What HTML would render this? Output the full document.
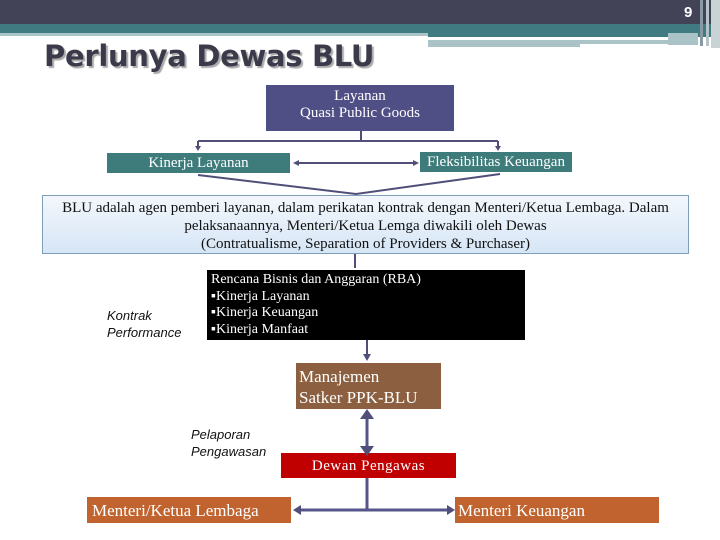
<!DOCTYPE html>
<html><head><meta charset="utf-8"><style>
body{margin:0;width:720px;height:540px;position:relative;background:#fff;overflow:hidden;font-family:"Liberation Serif",serif}
.a{position:absolute;box-sizing:border-box}
.it{font-family:"Liberation Sans",sans-serif;font-style:italic;font-size:13px;color:#111;line-height:17px}
</style></head><body>
<div class="a" style="left:0;top:0;width:720px;height:24px;background:#434357"></div>
<div class="a" style="left:0;top:24px;width:720px;height:9px;background:#3f7b80"></div>
<div class="a" style="left:0;top:33px;width:428px;height:3px;background:#a9c3c6"></div>
<div class="a" style="left:428px;top:33px;width:292px;height:4px;background:#3f7b80"></div>
<div class="a" style="left:428px;top:40px;width:240px;height:4px;background:#a9c3c6"></div>
<div class="a" style="left:428px;top:44px;width:152px;height:3px;background:#a9c3c6"></div>
<div class="a" style="left:668px;top:33px;width:30px;height:12px;background:#a9c3c6"></div>
<div class="a" style="left:700px;top:0;width:3px;height:46px;background:#8a9aa5"></div>
<div class="a" style="left:706px;top:0;width:3px;height:46px;background:#b5c3c8"></div>
<div class="a" style="left:711px;top:0;width:9px;height:48px;background:#c9d3d6"></div>
<div class="a" style="left:684px;top:4px;color:#fff;font:bold 15px 'Liberation Sans',sans-serif">9</div>
<div class="a" style="left:44px;top:39px;font:bold 29px 'DejaVu Sans',sans-serif;color:#3a3a4a;text-shadow:2px 2px 1px #aaa;letter-spacing:-0.3px">Perlunya Dewas BLU</div>

<div class="a" style="left:266px;top:85px;width:188px;height:46px;background:#4f4f86;color:#fff;font-size:15px;text-align:center;line-height:17px;padding-top:3px">Layanan<br>Quasi Public Goods</div>
<div class="a" style="left:107px;top:153px;width:183px;height:20px;background:#3e7c7c;color:#fff;font-size:15px;text-align:center;line-height:20px">Kinerja Layanan</div>
<div class="a" style="left:420px;top:152px;width:152px;height:20px;background:#3e7c7c;color:#fff;font-size:15px;text-align:center;line-height:20px;white-space:nowrap">Fleksibilitas Keuangan</div>
<div class="a" style="left:42px;top:195px;width:647px;height:59px;background:linear-gradient(#f3f7fc,#d6e6f6);border:1px solid #7f9fb8;font-size:15px;text-align:center;line-height:18px;padding-top:3px;color:#111;white-space:nowrap">BLU adalah agen pemberi layanan, dalam perikatan kontrak dengan Menteri/Ketua Lembaga. Dalam<br>pelaksanaannya, Menteri/Ketua Lemga diwakili oleh Dewas<br>(Contratualisme, Separation of Providers &amp; Purchaser)</div>
<div class="a" style="left:207px;top:270px;width:318px;height:70px;background:#000;color:#fff;font-size:14px;line-height:16.5px;padding:2px 0 0 4px">Rencana Bisnis dan Anggaran (RBA)<br>▪Kinerja Layanan<br>▪Kinerja Keuangan<br>▪Kinerja Manfaat</div>
<div class="a it" style="left:107px;top:307px">Kontrak<br>Performance</div>
<div class="a" style="left:296px;top:363px;width:145px;height:46px;background:#8b5f3f;color:#fff;font-size:17px;line-height:21px;padding:3px 0 0 3px">Manajemen<br>Satker PPK-BLU</div>
<div class="a it" style="left:191px;top:426px">Pelaporan<br>Pengawasan</div>
<div class="a" style="left:281px;top:453px;width:175px;height:25px;background:#c00000;color:#fff;font-size:15px;text-align:center;line-height:26px;letter-spacing:0.5px">Dewan Pengawas</div>
<div class="a" style="left:87px;top:497px;width:204px;height:26px;background:#c0632e;color:#fff;font-size:17px;line-height:27px;padding-left:5px">Menteri/Ketua Lembaga</div>
<div class="a" style="left:455px;top:497px;width:204px;height:26px;background:#c0632e;color:#fff;font-size:17px;line-height:27px;padding-left:3px">Menteri Keuangan</div>

<svg class="a" style="left:0;top:0" width="720" height="540">
<g stroke="#4f4f7a" stroke-width="2" fill="none">
<path d="M361 131V141M198 141H498M198 141V148M498 141V148"/>
<path d="M298 163H414"/>
<path d="M198 175L356 194L500 174"/>
<path d="M355 254V268M367 340V356"/>
</g>
<g stroke="#55558a" stroke-width="3" fill="none">
<path d="M367 417V450"/>
<path d="M367 478V510M298 510H450"/>
</g>
<g fill="#4f4f7a">
<path d="M195 146h6l-3 5z"/><path d="M495 146h6l-3 5z"/>
<path d="M293 163l6-3v6z"/><path d="M419 163l-6-3v6z"/>
<path d="M363 354h8l-4 7z"/>
<path d="M360 419l7-10 7 10z"/><path d="M360 446l7 10 7-10z"/>
<path d="M293 510l8-5v10z"/><path d="M455 510l-8-5v10z"/>
</g>
</svg>
</body></html>
